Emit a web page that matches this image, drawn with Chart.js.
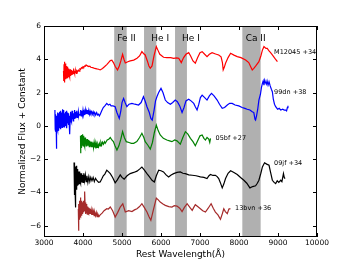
<!DOCTYPE html>
<html>
<head>
<meta charset="utf-8">
<script src="https://cdn.jsdelivr.net/npm/chart.js@4"></script>
<style>
  html, body { margin: 0; padding: 0; background: #fff; }
  #wrap { width: 352px; height: 264px; }
</style>
</head>
<body>
<div id="wrap"><canvas id="myChart" width="352" height="264"></canvas></div>
<script>
// spectra, [wavelength, flux + constant]
const m12045 = [[3500,3.3],[3507,2.7],[3514,3.7],[3521,2.6],[3528,3.85],[3535,2.9],[3542,3.6],[3549,2.8],[3556,3.75],[3563,3.0],[3570,3.5],[3577,2.85],[3584,3.6],[3591,2.9],[3598,3.45],[3605,3.0],[3612,3.55],[3619,2.95],[3626,3.4],[3633,3.0],[3640,3.45],[3647,3.05],[3654,3.35],[3661,2.95],[3668,3.4],[3675,3.05],[3682,3.3],[3689,3.0],[3696,3.35],[3703,3.05],[3710,3.3],[3720,3.1],[3730,3.3],[3740,3.1],[3750,3.28],[3760,3.12],[3770,3.3],[3780,3.15],[3790,3.28],[3800,3.2],[3815,3.3],[3830,3.15],[3845,3.3],[3860,3.25],[3880,3.35],[3900,3.28],[3920,3.42],[3940,3.4],[3960,3.5],[3980,3.46],[4000,3.56],[4020,3.52],[4040,3.6],[4060,3.58],[4080,3.66],[4100,3.62],[4125,3.6],[4150,3.56],[4175,3.58],[4200,3.52],[4250,3.5],[4300,3.45],[4355,3.42],[4400,3.4],[4440,3.36],[4500,3.45],[4550,3.55],[4610,3.68],[4660,3.82],[4700,3.92],[4740,3.95],[4780,3.8],[4830,3.55],[4885,3.36],[4930,3.6],[4970,3.9],[5015,4.3],[5050,4.0],[5085,3.78],[5150,3.85],[5210,3.9],[5300,3.95],[5385,4.06],[5450,4.2],[5510,4.46],[5550,4.35],[5595,4.26],[5650,3.9],[5690,3.6],[5725,3.46],[5770,3.6],[5820,4.2],[5880,4.76],[5920,4.55],[5970,4.3],[6065,4.12],[6150,4.1],[6250,4.1],[6325,4.06],[6400,4.08],[6455,4.06],[6520,3.8],[6580,4.1],[6640,4.3],[6710,4.4],[6760,4.2],[6820,3.9],[6880,3.76],[6940,4.1],[7000,4.4],[7055,4.46],[7120,4.3],[7180,4.16],[7240,4.3],[7310,4.4],[7400,4.32],[7480,4.26],[7540,4.15],[7575,3.8],[7595,3.36],[7620,3.5],[7655,3.76],[7720,4.1],[7785,4.36],[7870,4.25],[7955,4.16],[8050,4.1],[8170,3.96],[8250,3.8],[8300,3.55],[8340,3.36],[8380,3.45],[8430,3.6],[8510,3.86],[8560,4.2],[8600,4.55],[8640,4.76],[8690,4.65],[8725,4.66],[8770,4.5],[8810,4.4],[8855,4.26],[8920,4.05],[8985,3.86]]
const sn99dn = [[3280,0.95],[3287,-0.2],[3294,0.7],[3301,-0.35],[3308,0.6],[3315,0.0],[3322,-1.37],[3329,0.5],[3336,-0.1],[3343,0.8],[3350,-0.25],[3357,0.55],[3364,0.05],[3371,0.75],[3378,-0.3],[3385,0.6],[3392,0.1],[3399,0.85],[3406,-0.15],[3413,0.5],[3420,0.0],[3427,0.9],[3434,-0.2],[3441,0.65],[3448,0.15],[3455,0.8],[3462,-0.1],[3469,0.55],[3476,0.05],[3483,1.0],[3490,-0.05],[3497,0.7],[3504,0.2],[3511,0.95],[3518,0.1],[3525,0.6],[3532,-0.1],[3539,0.75],[3546,0.2],[3553,0.85],[3560,0.0],[3567,0.6],[3574,0.25],[3581,0.9],[3588,-0.15],[3595,0.7],[3602,0.15],[3609,0.8],[3616,0.3],[3623,0.65],[3630,0.05],[3637,0.75],[3644,0.25],[3651,0.6],[3658,-0.2],[3665,-0.5],[3672,0.5],[3679,0.2],[3686,0.85],[3693,0.35],[3700,0.7],[3710,0.25],[3720,0.9],[3730,0.4],[3740,0.8],[3750,0.3],[3760,0.75],[3770,0.45],[3780,0.95],[3790,0.5],[3800,0.85],[3810,0.45],[3820,0.8],[3830,0.55],[3840,0.9],[3850,0.5],[3860,0.75],[3870,0.55],[3880,0.85],[3890,0.6],[3900,0.7],[3925,0.65],[3940,0.95],[3955,0.6],[3970,0.9],[3985,0.65],[4000,0.95],[4015,0.7],[4030,0.85],[4045,0.65],[4060,0.95],[4075,0.7],[4090,0.9],[4105,0.75],[4120,0.95],[4135,0.7],[4150,0.85],[4165,0.7],[4180,0.9],[4200,0.75],[4220,0.85],[4240,0.7],[4260,0.85],[4280,0.7],[4300,0.8],[4325,0.65],[4350,0.8],[4375,0.65],[4400,0.7],[4420,0.6],[4440,0.68],[4480,0.9],[4520,1.1],[4560,1.2],[4610,1.35],[4650,1.25],[4690,1.3],[4720,1.2],[4770,1.2],[4825,1.15],[4870,0.8],[4930,0.45],[4970,0.9],[5000,1.4],[5040,1.65],[5080,1.4],[5125,1.15],[5180,1.3],[5255,1.35],[5330,1.3],[5425,1.25],[5490,1.4],[5550,1.75],[5600,1.45],[5640,1.15],[5700,0.8],[5740,0.45],[5775,0.35],[5820,0.9],[5860,1.5],[5895,1.75],[5940,2.0],[6000,2.25],[6050,2.0],[6110,1.55],[6170,1.4],[6240,1.3],[6300,1.4],[6365,1.55],[6420,1.45],[6480,1.2],[6540,0.8],[6590,1.1],[6640,1.5],[6710,1.6],[6770,1.5],[6840,1.35],[6880,1.15],[6925,0.95],[6970,1.3],[7010,1.7],[7055,1.85],[7120,1.7],[7180,1.55],[7240,1.8],[7295,1.95],[7360,1.8],[7440,1.55],[7500,1.3],[7570,1.05],[7630,1.1],[7700,1.25],[7760,1.35],[7825,1.35],[7900,1.25],[7995,1.2],[8080,1.1],[8150,1.05],[8210,1.0],[8280,0.95],[8340,0.85],[8380,0.8],[8410,0.4],[8425,0.35],[8450,0.6],[8480,1.0],[8510,1.55],[8550,1.9],[8575,2.3],[8600,2.55],[8620,2.7],[8640,2.45],[8660,2.75],[8680,2.6],[8700,2.5],[8720,2.7],[8745,2.45],[8770,2.65],[8800,2.4],[8830,2.2],[8855,2.05],[8880,1.6],[8910,1.3],[8940,1.15],[8990,1.0],[9030,1.05],[9070,0.95],[9120,1.0],[9160,0.95],[9195,0.95],[9220,0.9],[9240,1.1],[9255,1.2]]
const sn05bf = [[3935,-0.6],[3940,-1.65],[3945,-0.7],[3950,-1.3],[3955,-0.55],[3962,-1.2],[3969,-0.6],[3976,-1.1],[3983,-0.5],[3990,-1.15],[3997,-0.65],[4004,-1.2],[4011,-0.7],[4018,-1.1],[4025,-0.6],[4032,-1.15],[4039,-0.75],[4046,-1.25],[4053,-0.7],[4060,-1.1],[4070,-0.75],[4080,-1.2],[4090,-0.8],[4100,-1.15],[4110,-0.8],[4120,-1.2],[4130,-0.85],[4140,-1.2],[4150,-0.85],[4160,-1.25],[4170,-0.9],[4180,-1.2],[4195,-0.95],[4210,-1.25],[4225,-0.95],[4240,-1.25],[4255,-1.0],[4270,-1.3],[4285,-1.0],[4300,-1.3],[4315,-1.05],[4330,-1.35],[4345,-1.1],[4360,-1.3],[4380,-1.1],[4400,-1.25],[4420,-1.05],[4440,-1.2],[4460,-1.0],[4480,-1.15],[4500,-0.98],[4525,-1.1],[4550,-0.95],[4570,-1.05],[4620,-0.85],[4660,-0.8],[4700,-0.7],[4740,-0.85],[4780,-0.95],[4820,-1.2],[4870,-1.45],[4920,-1.2],[4970,-0.8],[5015,-0.35],[5060,-0.7],[5110,-0.95],[5180,-1.0],[5240,-1.05],[5300,-1.05],[5380,-0.95],[5450,-0.7],[5510,-0.45],[5560,-0.7],[5595,-0.95],[5660,-1.15],[5725,-1.4],[5780,-1.0],[5830,-0.4],[5880,0.05],[5930,-0.3],[5980,-0.55],[6060,-0.75],[6150,-0.85],[6220,-0.9],[6280,-0.95],[6350,-0.85],[6410,-0.9],[6495,-1.1],[6560,-0.7],[6625,-0.35],[6690,-0.5],[6755,-0.75],[6820,-0.95],[6880,-1.2],[6940,-0.9],[7000,-0.6],[7055,-0.55],[7100,-0.75],[7140,-0.85],[7180,-0.7],[7225,-0.8],[7250,-1.0],[7270,-0.75]]
const sn09jf = [[3770,-2.2],[3775,-3.9],[3780,-2.4],[3785,-4.15],[3790,-2.3],[3795,-3.7],[3800,-2.5],[3805,-4.0],[3810,-2.6],[3815,-4.9],[3820,-2.45],[3825,-3.8],[3830,-2.5],[3835,-3.6],[3840,-2.4],[3845,-3.7],[3850,-2.6],[3855,-3.5],[3860,-2.7],[3865,-3.6],[3870,-2.6],[3878,-3.5],[3886,-2.75],[3894,-3.45],[3902,-2.8],[3910,-3.5],[3918,-2.75],[3926,-3.35],[3934,-2.85],[3942,-3.45],[3950,-2.9],[3960,-3.4],[3970,-2.85],[3980,-3.35],[3990,-2.95],[4000,-3.4],[4020,-2.85],[4040,-3.3],[4060,-2.95],[4080,-3.35],[4100,-3.0],[4125,-3.4],[4150,-3.05],[4175,-3.35],[4200,-3.1],[4230,-3.3],[4260,-3.1],[4290,-3.35],[4320,-3.15],[4360,-3.3],[4400,-3.4],[4440,-3.37],[4480,-3.2],[4520,-3.0],[4560,-2.9],[4610,-2.67],[4650,-2.75],[4700,-2.87],[4760,-3.1],[4825,-3.42],[4880,-3.25],[4955,-2.95],[5000,-3.1],[5055,-3.2],[5130,-3.0],[5210,-2.87],[5300,-2.8],[5385,-2.72],[5450,-2.6],[5510,-2.48],[5570,-2.65],[5640,-2.87],[5700,-3.05],[5770,-3.27],[5830,-3.37],[5880,-3.0],[5940,-2.67],[6000,-2.7],[6065,-2.77],[6130,-2.95],[6195,-3.07],[6260,-2.95],[6325,-2.87],[6410,-2.8],[6495,-2.77],[6560,-2.85],[6625,-2.87],[6710,-2.95],[6800,-2.97],[6900,-3.0],[7010,-3.07],[7100,-3.1],[7180,-3.17],[7230,-3.0],[7270,-2.92],[7330,-2.98],[7395,-2.97],[7440,-3.05],[7480,-3.17],[7520,-3.4],[7570,-3.73],[7610,-3.5],[7655,-3.17],[7720,-2.85],[7785,-2.7],[7870,-2.8],[7955,-2.92],[8040,-3.1],[8125,-3.27],[8200,-3.45],[8280,-3.73],[8350,-3.65],[8425,-3.6],[8470,-3.45],[8510,-3.27],[8560,-2.85],[8600,-2.47],[8655,-2.22],[8710,-2.3],[8770,-2.37],[8810,-2.8],[8855,-3.27],[8900,-3.4],[8940,-3.47],[8980,-3.3],[9020,-3.4],[9070,-3.27],[9100,-3.35],[9140,-2.87],[9160,-3.1],[9180,-3.17]]
const sn13bvn = [[3880,-5.0],[3885,-6.3],[3890,-5.2],[3895,-4.7],[3900,-5.6],[3906,-4.5],[3912,-5.5],[3918,-4.6],[3924,-5.4],[3930,-4.3],[3936,-5.3],[3942,-4.7],[3948,-5.45],[3954,-4.5],[3960,-5.2],[3966,-4.8],[3972,-5.4],[3978,-4.6],[3984,-5.3],[3990,-4.75],[3996,-5.25],[4002,-4.6],[4010,-5.2],[4018,-4.5],[4026,-5.1],[4034,-4.3],[4042,-5.0],[4050,-3.95],[4058,-5.1],[4066,-4.6],[4074,-5.3],[4082,-4.7],[4090,-5.25],[4100,-4.8],[4110,-5.3],[4120,-4.85],[4130,-5.25],[4140,-4.9],[4150,-5.3],[4160,-4.95],[4170,-5.3],[4180,-5.0],[4195,-5.3],[4210,-5.05],[4225,-5.35],[4240,-5.1],[4255,-5.35],[4270,-5.15],[4285,-5.4],[4300,-5.2],[4320,-5.4],[4340,-5.2],[4360,-5.45],[4380,-5.3],[4410,-5.45],[4440,-5.35],[4490,-5.25],[4540,-5.1],[4610,-4.98],[4650,-5.0],[4700,-4.88],[4760,-5.1],[4825,-5.48],[4890,-5.2],[4955,-4.88],[5020,-4.68],[5085,-5.18],[5170,-5.1],[5255,-5.15],[5320,-5.05],[5385,-4.98],[5450,-4.85],[5510,-4.68],[5570,-4.9],[5640,-5.18],[5690,-5.45],[5740,-5.68],[5800,-5.1],[5880,-4.34],[5930,-4.45],[5980,-4.58],[6050,-4.7],[6110,-4.78],[6200,-4.85],[6280,-4.88],[6340,-4.8],[6410,-4.82],[6480,-4.95],[6540,-5.15],[6600,-4.9],[6670,-4.68],[6740,-4.9],[6800,-5.08],[6840,-4.9],[6880,-4.74],[6940,-4.85],[7010,-4.98],[7070,-5.1],[7140,-5.18],[7210,-4.95],[7285,-4.68],[7340,-4.95],[7395,-5.18],[7460,-5.35],[7525,-5.62],[7570,-5.3],[7610,-4.98],[7650,-5.15],[7700,-5.28],[7740,-5.0],[7780,-4.98]]

const names = ['M12045 +34', '99dn +38', '05bf +27', '09jf +34', '13bvn +36']
const colors = ['#ff0000', '#0000ff', '#008000', '#000000', '#a52a2a']
// where each name sits (wavelength, flux)
const nameX = [8900, 8900, 7400, 8900, 7900]
const nameY = [4.44, 2.0, -0.75, -2.27, -4.98]

// shaded line regions
const bandStart = [4800, 5565, 6360, 8085]
const bandEnd = [5120, 5880, 6665, 8555]
const bandNames = ['Fe II', 'He I', 'He I', 'Ca II']
const bandNameX = [4880, 5750, 6540, 8170]
const bandNameY = 5.25

const xTicks = [3000, 4000, 5000, 6000, 7000, 8000, 9000, 10000]
const yTicks = [-6, -4, -2, 0, 2, 4, 6]

const FONT = 'DejaVu Sans'
const spectra = [m12045, sn99dn, sn05bf, sn09jf, sn13bvn]

const extras = {
  id: 'extras',
  beforeDatasetsDraw(chart) {
    const { ctx, chartArea: a, scales: { x } } = chart
    ctx.save()
    ctx.fillStyle = '#b0b0b0'
    bandStart.forEach((s, i) => {
      const x0 = x.getPixelForValue(s)
      const x1 = x.getPixelForValue(bandEnd[i])
      ctx.fillRect(x0, a.top, x1 - x0, a.bottom - a.top)
    })
    ctx.restore()
  },
  afterDraw(chart) {
    const { ctx, chartArea: a, scales: { x, y } } = chart
    ctx.save()
    // frame
    ctx.strokeStyle = '#000'
    ctx.lineWidth = 1
    ctx.strokeRect(Math.round(a.left) + 0.5, Math.round(a.top) + 0.5, Math.round(a.right - a.left) - 1, Math.round(a.bottom - a.top) - 1)
    // inward ticks on all sides
    ctx.beginPath()
    xTicks.forEach(v => {
      const px = Math.round(x.getPixelForValue(v)) + 0.5
      ctx.moveTo(px, a.bottom); ctx.lineTo(px, a.bottom - 4)
      ctx.moveTo(px, a.top); ctx.lineTo(px, a.top + 4)
    })
    yTicks.forEach(v => {
      const py = Math.round(y.getPixelForValue(v)) + 0.5
      ctx.moveTo(a.left, py); ctx.lineTo(a.left + 4, py)
      ctx.moveTo(a.right, py); ctx.lineTo(a.right - 4, py)
    })
    ctx.stroke()

    ctx.fillStyle = '#000'
    // y tick labels
    ctx.font = '7.5px "' + FONT + '"'
    ctx.textAlign = 'right'
    ctx.textBaseline = 'middle'
    yTicks.forEach(v => {
      const t = v < 0 ? '\u2212' + Math.abs(v) : String(v)
      ctx.fillText(t, a.left - 3, Math.round(y.getPixelForValue(v)) + 0.5)
    })
    // band names
    ctx.font = '9px "' + FONT + '"'
    ctx.textAlign = 'left'
    bandNames.forEach((n, i) => {
      ctx.fillText(n, x.getPixelForValue(bandNameX[i]), y.getPixelForValue(bandNameY))
    })
    // spectrum names
    ctx.font = '6.5px "' + FONT + '"'
    names.forEach((n, i) => {
      ctx.fillText(n, x.getPixelForValue(nameX[i]), y.getPixelForValue(nameY[i]))
    })
    // axis titles
    ctx.font = '9px "' + FONT + '"'
    ctx.textAlign = 'center'
    ctx.fillText('Rest Wavelength(Å)', (a.left + a.right) / 2, 255)
    ctx.translate(23, (a.top + a.bottom) / 2)
    ctx.rotate(-Math.PI / 2)
    ctx.fillText('Normalized Flux + Constant', 0, 0)
    ctx.restore()
  }
}

const ctx = document.getElementById('myChart')
new Chart(ctx, {
  type: 'line',
  data: {
    datasets: spectra.map((s, i) => ({
      label: names[i],
      data: s.map(p => ({ x: p[0], y: p[1] })),
      borderColor: colors[i],
      borderWidth: 1.2,
      pointRadius: 0,
      tension: 0,
      fill: false
    }))
  },
  options: {
    responsive: false,
    animation: false,
    layout: { padding: { top: 26, right: 35, left: 0, bottom: 0 } },
    plugins: { legend: { display: false }, tooltip: { enabled: false } },
    scales: {
      x: {
        type: 'linear',
        min: 3000,
        max: 10000,
        afterBuildTicks: s => { s.ticks = xTicks.map(v => ({ value: v })) },
        afterFit: s => { s.height = 27 },
        grid: { display: false, drawTicks: false, tickLength: 0 },
        border: { display: false },
        ticks: { color: '#000', font: { family: FONT, size: 7.5 }, padding: 2, maxRotation: 0, callback: v => String(v) }
      },
      y: {
        min: -6.68,
        max: 6,
        afterBuildTicks: s => { s.ticks = yTicks.map(v => ({ value: v })) },
        afterFit: s => { s.width = 44 },
        grid: { display: false },
        border: { display: false },
        ticks: { display: false }
      }
    }
  },
  plugins: [extras]
})
</script>
</body>
</html>
